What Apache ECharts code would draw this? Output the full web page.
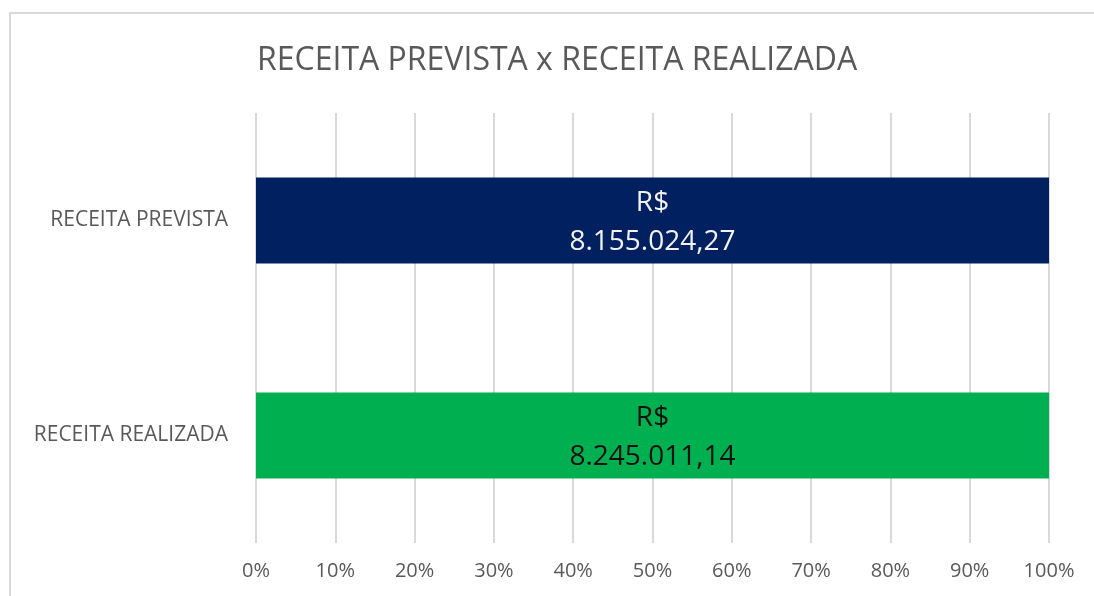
<!DOCTYPE html>
<html>
<head>
    <meta charset="utf-8">
    <title>RECEITA PREVISTA x RECEITA REALIZADA</title>
    <script src="https://cdn.jsdelivr.net/npm/echarts@6/dist/echarts.min.js"></script>
</head>
<style>
    html, body, #main {
        width: 100%;
        height: 100%;
        margin: 0;
        background: #ffffff;
    }
</style>
<body>
<div id='main'></div>
<script>
    // dados
    var categorias = ['RECEITA PREVISTA', 'RECEITA REALIZADA'];
    var valores = [8155024.27, 8245011.14];   // R$
    var percentual = [100, 100];              // barra 100% empilhada
    var ticks = [0, 10, 20, 30, 40, 50, 60, 70, 80, 90, 100];

    var coresBarra = ['#002060', '#00B050'];
    var coresRotulo = ['#f2f2f2', '#111111'];

    // formata 8155024.27 -> 8.155.024,27
    function formataBR(v) {
        var partes = v.toFixed(2).split('.');
        var inteiro = partes[0].replace(/\B(?=(\d{3})+(?!\d))/g, '.');
        return inteiro + ',' + partes[1];
    }

    var dados = [];
    for (var i = 0; i < categorias.length; i++) {
        dados.push({
            value: percentual[i],
            itemStyle: { color: coresBarra[i] },
            label: { color: coresRotulo[i] }
        });
    }

    var chart = echarts.init(document.getElementById('main'));
    var option = {
        animation: false,
        title: {
            text: 'RECEITA PREVISTA x RECEITA REALIZADA',
            left: 252,
            top: 40,
            textStyle: {
                fontFamily: 'Open Sans',
                fontSize: 32,
                fontWeight: 'normal',
                color: '#595959'
            }
        },
        graphic: [{
            type: 'rect',
            shape: { x: 10, y: 13, width: 1200, height: 700 },
            style: { fill: 'none', stroke: '#d9d9d9', lineWidth: 2 },
            silent: true
        }],
        grid: {
            left: 256,
            right: 45,
            top: 113,
            bottom: 53,
            containLabel: false
        },
        xAxis: {
            type: 'value',
            min: 0,
            max: 100,
            interval: 10,
            axisLine: { show: false },
            axisTick: { show: false },
            splitLine: { lineStyle: { color: '#d9d9d9', width: 2 } },
            axisLabel: {
                margin: 18,
                fontFamily: 'Open Sans',
                fontSize: 20,
                color: '#595959',
                formatter: function (v) {
                    return ticks.indexOf(v) >= 0 ? v + '%' : '';
                }
            }
        },
        yAxis: {
            type: 'category',
            inverse: true,
            data: categorias,
            axisLine: { show: false },
            axisTick: { show: false },
            axisLabel: {
                margin: 28,
                fontFamily: 'Open Sans',
                fontSize: 21,
                color: '#595959'
            }
        },
        series: [{
            type: 'bar',
            stack: 'total',
            barWidth: '40%',
            data: dados,
            label: {
                show: true,
                position: 'inside',
                offset: [0, 2],
                fontFamily: 'Open Sans',
                fontSize: 28,
                lineHeight: 39,
                align: 'center',
                formatter: function (p) {
                    return 'R$\n' + formataBR(valores[p.dataIndex]);
                }
            }
        }]
    };
    chart.setOption(option);

    window.onresize = chart.resize;
</script>
</body>
</html>
